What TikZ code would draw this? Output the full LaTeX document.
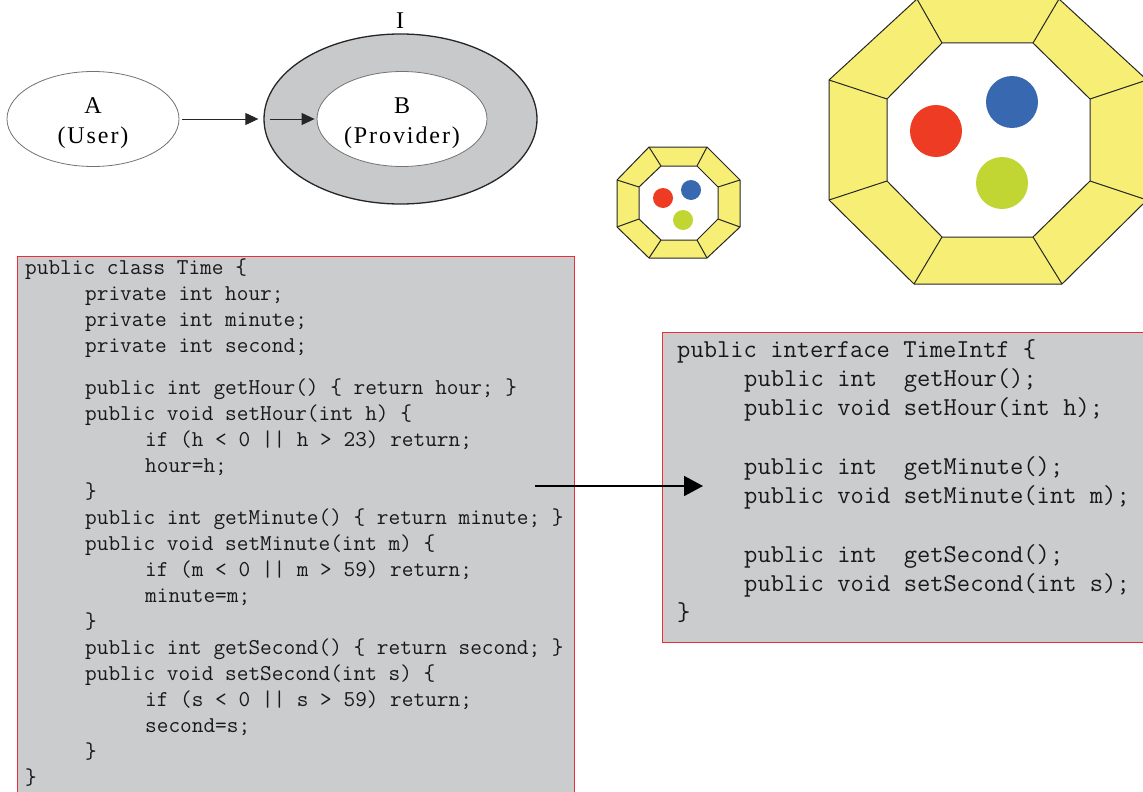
\documentclass[tikz,border=0pt]{standalone}
\usepackage{fontspec}
\setmainfont{Liberation Serif}
\newfontfamily\labfont[LetterSpace=8]{Liberation Serif}
\usetikzlibrary{shapes.geometric,arrows.meta}
\definecolor{octyellow}{HTML}{F7EF75}
\definecolor{dotred}{HTML}{EE3B24}
\definecolor{dotblue}{HTML}{3768B0}
\definecolor{dotgreen}{HTML}{C1D632}
\definecolor{boxgray}{HTML}{CBCCCE}
\definecolor{ringgray}{HTML}{C8C9CB}
\definecolor{boxred}{HTML}{E8303A}
\begin{document}
\begin{tikzpicture}[x=1pt,y=-1pt,
  codeL/.style={anchor=base west,inner sep=0pt,font=\ttfamily\fontsize{22.66}{24}\selectfont,text=black!90},
  codeR/.style={anchor=base west,inner sep=0pt,font=\ttfamily\fontsize{25.82}{27}\selectfont,text=black!90},
  lab/.style={align=center,inner sep=0pt,font=\labfont\fontsize{24}{30}\selectfont},
  ell/.style={ellipse,inner sep=0pt},
  smallarr/.style={draw=black!85,line width=1pt,-{Triangle[length=13pt,width=12pt]}},
  bigarr/.style={draw=black,line width=1.8pt,-{Triangle[length=19pt,width=20pt]}},
  octline/.style={draw=black!85,line width=1pt,line join=round},
  codebox/.style={fill=boxgray,draw=boxred,line width=1pt}]
\useasboundingbox (0,0) rectangle (1143,792);
\clip (0,0) rectangle (1143,792);

% ---- ellipses ----
\node[ell,draw=black!55,line width=0.8pt,fill=white,minimum width=172pt,minimum height=95pt] (A) at (93,119) {};
\node[ell,draw=black!85,line width=1.3pt,fill=ringgray,minimum width=273pt,minimum height=170pt] (I) at (400.5,119) {};
\node[ell,draw=black!55,line width=0.8pt,fill=white,minimum width=170pt,minimum height=95pt] (B) at (402,119) {};
\node[lab] (Atext) at ([yshift=-4pt]A.center) {A\\(User)};
\node[lab] (Btext) at ([yshift=-4pt]B.center) {B\\(Provider)};
\node[lab] (Ilab) at (400,21) {I};
\draw[smallarr] ([xshift=3pt]A.east) -- ([xshift=-5pt]I.west);
\draw[smallarr] ([xshift=7pt]I.west) -- ([xshift=-2pt]B.west);

% ---- small octagon ----
\fill[octyellow] (649,147)--(707,147)--(740,180)--(740,227)--(707,258)--(649,258)--(617,227)--(617,180)--cycle;
\fill[white] (661,166)--(697,166)--(718,187)--(718,219)--(697,240)--(661,240)--(639,219)--(639,187)--cycle;
\draw[octline] (649,147)--(707,147)--(740,180)--(740,227)--(707,258)--(649,258)--(617,227)--(617,180)--cycle;
\draw[octline] (661,166)--(697,166)--(718,187)--(718,219)--(697,240)--(661,240)--(639,219)--(639,187)--cycle;
\draw[octline] (649,147)--(661,166) (707,147)--(697,166) (740,180)--(718,187) (740,227)--(718,219)
  (707,258)--(697,240) (649,258)--(661,240) (617,227)--(639,219) (617,180)--(639,187);
\fill[dotred] (663,198) circle (10);
\fill[dotblue] (691,190) circle (10);
\fill[dotgreen] (683,220) circle (10);

% ---- big octagon ----
\fill[octyellow] (917,-1)--(1059,-1)--(1147,80)--(1147,200)--(1062,284)--(914,284)--(829,200)--(829,80)--cycle;
\fill[white] (942,43)--(1033,43)--(1090,99)--(1090,181)--(1033,237)--(942,237)--(887,181)--(887,99)--cycle;
\draw[octline] (917,-1)--(1059,-1)--(1147,80)--(1147,200)--(1062,284)--(914,284)--(829,200)--(829,80)--cycle;
\draw[octline] (942,43)--(1033,43)--(1090,99)--(1090,181)--(1033,237)--(942,237)--(887,181)--(887,99)--cycle;
\draw[octline] (917,-1)--(942,43) (1059,-1)--(1033,43) (1147,80)--(1090,99) (1147,200)--(1090,181)
  (1062,284)--(1033,237) (914,284)--(942,237) (829,200)--(887,181) (829,80)--(887,99);
\fill[dotred] (936,131) circle (26);
\fill[dotblue] (1012,102) circle (26);
\fill[dotgreen] (1002,183) circle (26);

% ---- code boxes ----
\draw[codebox] (17,256) rectangle (574,810);
\draw[codebox] (662,332) rectangle (1160,642);

\node[codeL] (l1) at (25,274) {public class Time \{};
\node[codeL] (l2) at (85,300) {private int hour;};
\node[codeL] (l3) at (85,326) {private int minute;};
\node[codeL] (l4) at (85,352) {private int second;};
\node[codeL] (l5) at (85,394) {public int getHour() \{ return hour; \}};
\node[codeL] (l6) at (85,420) {public void setHour(int h) \{};
\node[codeL] (l7) at (145,446) {if (h < 0 || h > 23) return;};
\node[codeL] (l8) at (145,472) {hour=h;};
\node[codeL] (l9) at (85,498) {\}};
\node[codeL] (l10) at (85,524) {public int getMinute() \{ return minute; \}};
\node[codeL] (l11) at (85,550) {public void setMinute(int m) \{};
\node[codeL] (l12) at (145,576) {if (m < 0 || m > 59) return;};
\node[codeL] (l13) at (145,602) {minute=m;};
\node[codeL] (l14) at (85,628) {\}};
\node[codeL] (l15) at (85,654) {public int getSecond() \{ return second; \}};
\node[codeL] (l16) at (85,680) {public void setSecond(int s) \{};
\node[codeL] (l17) at (145,706) {if (s < 0 || s > 59) return;};
\node[codeL] (l18) at (145,732) {second=s;};
\node[codeL] (l19) at (85,758) {\}};
\node[codeL] (l20) at (25,784) {\}};

\node[codeR] (r1) at (677,357) {public interface TimeIntf \{};
\node[codeR] (r2) at (744,386.3) {public int~~getHour();};
\node[codeR] (r3) at (744,415.6) {public void setHour(int h);};
\node[codeR] (r4) at (744,474.2) {public int~~getMinute();};
\node[codeR] (r5) at (744,503.5) {public void setMinute(int m);};
\node[codeR] (r6) at (744,562.1) {public int~~getSecond();};
\node[codeR] (r7) at (744,591.4) {public void setSecond(int s);};
\node[codeR] (r8) at (677,620.7) {\}};

\coordinate (arrS) at (535,486);
\coordinate (arrE) at (703,486);
\draw[bigarr] (arrS) -- (arrE);
\end{tikzpicture}
\end{document}
